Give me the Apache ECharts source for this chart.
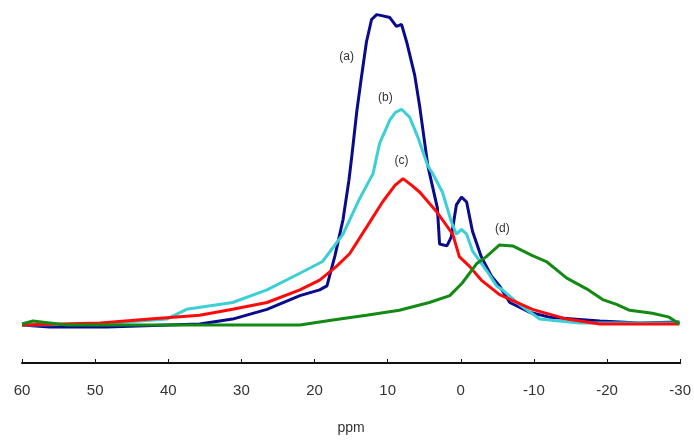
<!DOCTYPE html>
<html>
<head>
<meta charset="utf-8">
<script src="https://cdn.jsdelivr.net/npm/echarts@6/dist/echarts.min.js"></script>
<style>html,body{margin:0;padding:0;background:#fff}#c{width:694px;height:440px}</style>
</head>
<body>
<div id="c"></div>
<script>
// [ppm, intensity]
var curveA = [[60,39],[56.2,37],[48.4,37],[35.7,40],[31.2,45],[26.5,55],[22.0,69],[19.3,75],[18.3,79],[17.2,110],[16.1,147],[15.3,187],[14.9,212],[14.2,259],[13.6,292],[12.9,329],[12.2,352],[11.5,357],[10.8,356],[9.7,354],[8.8,345],[8.1,347],[7.4,329],[6.3,295],[5.6,262],[4.5,202],[3.9,182],[3.2,159],[2.9,122],[1.9,120],[1.3,129],[0.6,162],[-0.1,170],[-0.8,165],[-1.6,135],[-2.8,109],[-4.2,89],[-5.3,79],[-6.7,62],[-9.4,52],[-12.1,47],[-19.0,43],[-24.4,41],[-29.9,42]];
var curveB = [[60,39],[49.3,40],[40.2,45],[37.5,55],[31.2,62],[26.5,75],[22.0,92],[18.9,104],[16.1,132],[13.8,169],[12.0,194],[11.1,225],[9.7,249],[8.9,257],[8.1,260],[7.0,252],[5.9,232],[4.5,202],[3.9,195],[2.5,175],[1.3,145],[0.6,132],[-0.1,137],[-0.8,132],[-1.6,115],[-3.5,95],[-4.9,79],[-5.7,75],[-8.0,60],[-10.8,45],[-16.2,41],[-29.9,41]];
var curveC = [[60,39],[49.3,41],[42.5,45],[35.7,49],[31.2,55],[26.5,62],[22.0,75],[19.3,85],[17.0,99],[15.2,112],[12.9,139],[10.7,165],[9.0,182],[7.9,189],[6.7,182],[5.6,175],[3.3,155],[1.1,132],[0.2,109],[-1.2,99],[-2.8,85],[-5.3,70],[-9.8,55],[-14.5,45],[-19.0,40],[-29.9,40]];
var curveD = [[60,40],[58.5,43],[53.9,39],[35.7,39],[22.0,39],[17.5,44],[12.9,49],[8.4,54],[4.3,62],[1.5,69],[-0.2,82],[-2.2,102],[-3.5,109],[-5.3,121],[-7.1,120],[-9.8,110],[-11.7,104],[-14.5,87],[-17.2,76],[-19.4,65],[-21.3,60],[-23.1,54],[-26.2,51],[-28.5,47],[-29.9,40]];
var seriesNames = ['(a)','(b)','(c)','(d)'];
var labelAnchors = [[15.6,314],[10.3,272],[8.1,207],[-5.7,138]];
var xTicks = {min:-30, max:60, step:10};

var colors = ['#0a0a8c','#3ccfd6','#ff0a0a','#138a13'];
var curves = [curveA, curveB, curveC, curveD];
var series = curves.map(function(d, i){
  return {
    type:'line', name: seriesNames[i], data:d, showSymbol:false, smooth:false,
    lineStyle:{color:colors[i], width:3}, itemStyle:{color:colors[i]}, z: 2+i,
    markPoint:{symbol:'circle', symbolSize:0, silent:true,
      label:{show:true, formatter: seriesNames[i], color:'#333', fontSize:12, fontFamily:'Liberation Sans, Arial, sans-serif', position:'inside'},
      data:[{coord:labelAnchors[i]}]}
  };
});

var chart = echarts.init(document.getElementById('c'), null, {renderer:'canvas'});
chart.setOption({
  animation:false,
  backgroundColor:'#fff',
  grid:{left:22, right:13, top:0, bottom:68, containLabel:false},
  xAxis:{type:'value', inverse:true, min:xTicks.min, max:xTicks.max, interval:xTicks.step,
    name:'ppm', nameLocation:'middle', nameGap:58,
    nameTextStyle:{color:'#333', fontSize:14, fontFamily:'Liberation Sans, Arial, sans-serif'},
    axisLine:{show:true, lineStyle:{color:'#111', width:2}},
    axisTick:{show:true, inside:true, length:4, lineStyle:{color:'#111', width:1}},
    axisLabel:{color:'#333', fontSize:15, margin:20, fontFamily:'Liberation Sans, Arial, sans-serif'},
    splitLine:{show:false}},
  yAxis:{type:'value', min:0, max:372, show:false, splitLine:{show:false}},
  series: series
});
</script>
</body>
</html>
